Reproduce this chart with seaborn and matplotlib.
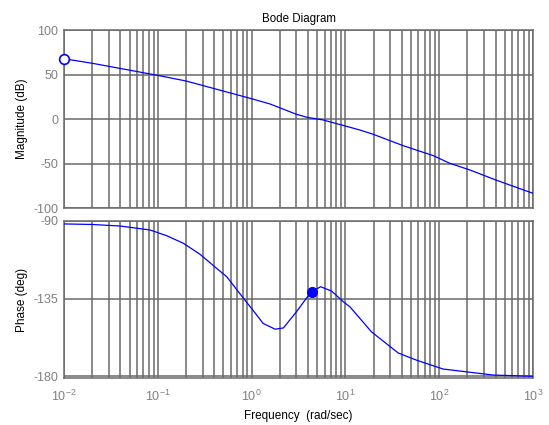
import numpy as np
import pandas as pd
import matplotlib
matplotlib.use("Agg")
import matplotlib.pyplot as plt
import matplotlib.ticker as mticker
import seaborn as sns

# Magnitude data (rad/sec, dB)
mag_freq = [0.01, 0.02, 0.1, 0.2, 1.0, 1.57, 3.0, 3.9, 5.8, 10.0, 14.3, 19.8, 41.4, 86.5, 130.0, 213.0, 410.0, 1000.0]
mag_db = [67.7, 62.6, 49.0, 42.7, 22.8, 16.9, 5.3, 1.9, -1.1, -7.9, -12.4, -17.2, -30.0, -41.2, -49.8, -57.3, -68.9, -83.5]

# Phase data (rad/sec, deg)
ph_freq = [0.01, 0.0197, 0.0395, 0.0826, 0.124, 0.187, 0.282, 0.425, 0.543, 0.887, 1.0, 1.33, 1.78, 2.18, 3.0,
           3.87, 4.37, 5.44, 7.13, 9.5, 11.2, 19.0, 36.6, 57.5, 110.0, 378.0, 1000.0]
ph_deg = [-91.7, -92.0, -92.9, -95.2, -98.5, -102.9, -109.3, -117.5, -122.3, -137.2, -140.7, -149.4, -152.7, -152.0, -142.7,
          -134.5, -131.0, -128.1, -130.6, -136.8, -139.8, -154.3, -166.5, -170.7, -175.8, -179.3, -180.0]

# Markers
start_freq = [0.01]
start_mag = [67.7]
pm_freq = [4.37]
pm_phase = [-131.0]

mag_ticks = [-100, -50, 0, 50, 100]
ph_ticks = [-180, -135, -90]

sns.set_style("white")
plt.rcParams['font.family'] = ['Liberation Sans', 'DejaVu Sans']
plt.rcParams['font.size'] = 8.5
plt.rcParams['axes.unicode_minus'] = False

fig = plt.figure(figsize=(5.49, 4.25), dpi=100)
W, H = 549, 425
ax1 = fig.add_axes([64 / W, 1 - 208 / H, 469 / W, 178 / H])
ax2 = fig.add_axes([64 / W, 1 - 378 / H, 469 / W, 157 / H])

grid_col = '#6a6a6a'
tick_col = '#808080'

mag_df = pd.DataFrame({'w': mag_freq, 'm': mag_db})
ph_df = pd.DataFrame({'w': ph_freq, 'p': ph_deg})

sns.lineplot(data=mag_df, x='w', y='m', ax=ax1, color='#0000ff', linewidth=0.9, zorder=5)
sns.lineplot(data=ph_df, x='w', y='p', ax=ax2, color='#0000ff', linewidth=0.9, zorder=5)
ax1.plot(start_freq, start_mag, 'o', mfc='white', mec='#0000ff', ms=7, mew=1.2, zorder=6, clip_on=False)
ax2.plot(pm_freq, pm_phase, 'o', color='#0000ff', ms=7, zorder=6)

for ax in (ax1, ax2):
    ax.set_xscale('log')
    ax.set_xlim(0.01, 1000)
    ax.xaxis.set_major_locator(mticker.LogLocator(base=10, numticks=10))
    ax.xaxis.set_minor_locator(mticker.LogLocator(base=10, subs=np.arange(2, 10), numticks=10))
    ax.grid(True, which='both', axis='x', color=grid_col, linewidth=1.1)
    ax.grid(True, which='major', axis='y', color=grid_col, linewidth=1.1)
    ax.tick_params(which='both', length=0, colors=tick_col, labelsize=9, pad=4)
    ax.tick_params(axis='x', pad=8)
    for s in ax.spines.values():
        s.set_color(grid_col)
        s.set_linewidth(1.1)
    ax.set_axisbelow(True)

ax1.set_ylim(-100, 100)
ax1.set_yticks(mag_ticks)
ax1.set_xticklabels([])
ax1.set_xlabel('')
ax1.set_ylabel('Magnitude (dB)', color='black', fontsize=8.5)
ax1.set_title('Bode Diagram', fontsize=8.3, color='black', pad=6)

ax2.set_ylim(-181, -90)
ax2.set_yticks(ph_ticks)
ax2.set_ylabel('Phase (deg)', color='black', fontsize=8.5)
ax2.set_xlabel('Frequency  (rad/sec)', color='black', fontsize=8.5, labelpad=4)

fig.savefig('out.png', dpi=100, facecolor='white')
